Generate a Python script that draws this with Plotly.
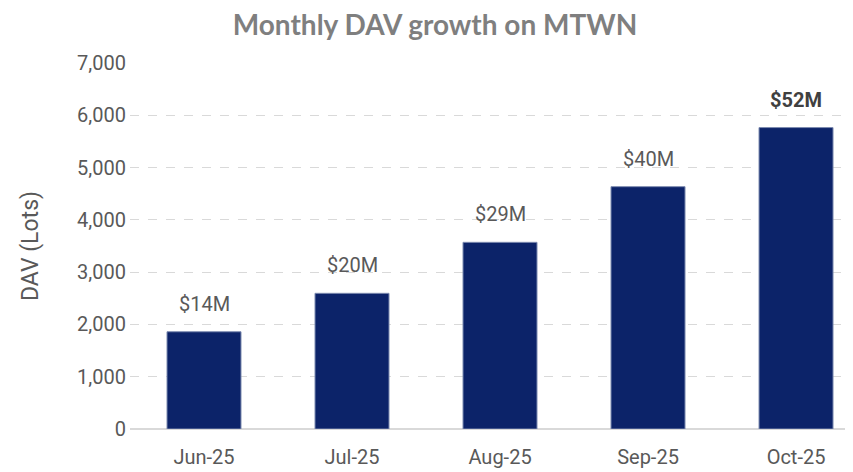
import plotly.graph_objects as go

months = ["Jun-25", "Jul-25", "Aug-25", "Sep-25", "Oct-25"]
dav_lots = [1860, 2595, 3570, 4635, 5765]
value_labels = ["$14M", "$20M", "$29M", "$40M", "$52M"]
bold_flags = [False, False, False, False, True]
y_ticks = [0, 1000, 2000, 3000, 4000, 5000, 6000, 7000]

fig = go.Figure()
fig.add_trace(go.Bar(
    x=months, y=dav_lots,
    marker=dict(color="#0c2369", line=dict(color="#7d8bb0", width=1)),
    hoverinfo="x+y",
))

for m, v, lab, b in zip(months, dav_lots, value_labels, bold_flags):
    fig.add_annotation(
        x=m, y=v, text=f"<b>{lab}</b>" if b else lab,
        showarrow=False, yanchor="bottom", yshift=14,
        font=dict(family="Roboto, Liberation Sans, sans-serif", size=20,
                  color="#404040" if b else "#595959"),
    )

fig.update_layout(
    width=845, height=464,
    margin=dict(l=122, r=0, t=55, b=43),
    paper_bgcolor="white", plot_bgcolor="white",
    bargap=0.5,
    showlegend=False,
    title=dict(text="<b>Monthly DAV growth on MTWN</b>", x=427/845, xanchor="center",
               y=1 - 17/464, yanchor="middle",
               font=dict(family="Lato, Open Sans, sans-serif", size=28, color="#7f7f7f")),
    xaxis=dict(range=[-0.5, 4.385], showgrid=False, showline=False, zeroline=False,
               ticks="", tickfont=dict(family="Roboto, sans-serif", size=20, color="#595959"),
               ticklabelstandoff=14),
    yaxis=dict(range=[0, 7000], tickvals=y_ticks, tickformat=",",
               showgrid=True, gridcolor="#d9d9d9", griddash="dash", gridwidth=1,
               zeroline=True, zerolinecolor="#d9d9d9", zerolinewidth=2,
               showline=False, ticks="",
               tickfont=dict(family="Roboto, Liberation Sans, sans-serif", size=20, color="#595959"),
               ticklabelstandoff=3,
               title=dict(text="DAV (Lots)", standoff=32,
                          font=dict(family="Roboto, Liberation Sans, sans-serif", size=23, color="#595959"))),
)

fig.write_html("out.html")
